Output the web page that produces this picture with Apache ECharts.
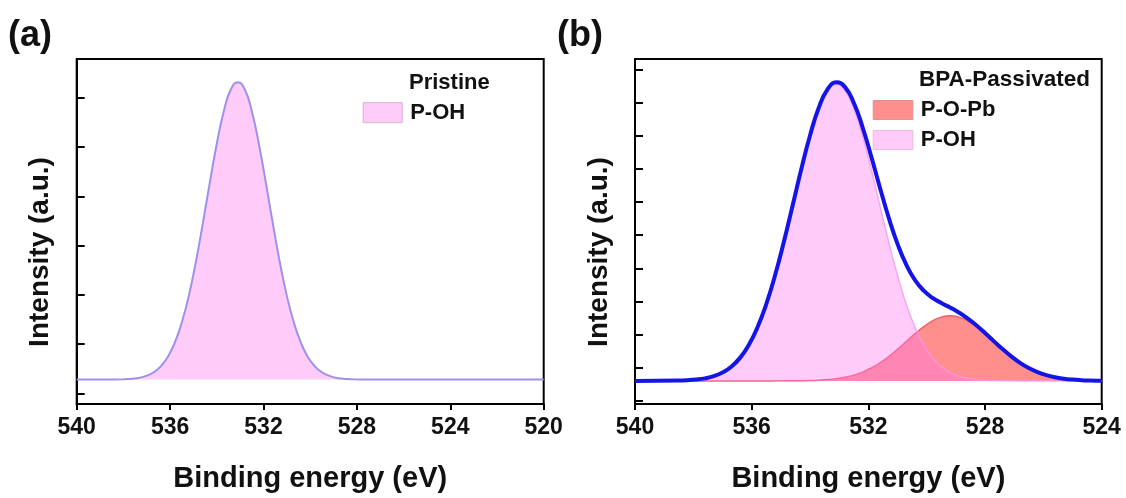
<!DOCTYPE html>
<html>
<head>
<meta charset="utf-8">
<script src="https://cdn.jsdelivr.net/npm/echarts@6/dist/echarts.min.js"></script>
<style>html,body{margin:0;padding:0;background:#fff;}#c{width:1126px;height:498px;}</style>
</head>
<body>
<div id="c"></div>
<script>
// ---- Panel (a): Pristine ----
const energyA = [540, 538.5, 537.9, 537.6, 537.3, 537.0, 536.7, 536.4, 536.1, 535.8, 535.5, 535.2, 534.9, 534.6, 534.3, 534.0, 533.7, 533.4, 533.1, 532.8, 532.5, 532.2, 531.9, 531.6, 531.3, 531.0, 530.7, 530.4, 530.1, 529.8, 529.5, 529.2, 528.9, 528.6, 528.3, 527.7, 520];
const pohA = [0, 0, 0.1, 0.2, 0.4, 0.8, 1.5, 2.7, 4.6, 7.5, 11.6, 17.0, 23.8, 31.7, 40.0, 47.9, 54.5, 58.9, 60.4, 58.9, 54.5, 47.9, 40.0, 31.7, 23.8, 17.0, 11.6, 7.5, 4.6, 2.7, 1.5, 0.8, 0.4, 0.2, 0.1, 0, 0];

// ---- Panel (b): BPA-Passivated ----
const energyB = [540, 538.5, 538.2, 537.9, 537.6, 537.3, 537.0, 536.7, 536.4, 536.1, 535.8, 535.5, 535.2, 534.9, 534.6, 534.3, 534.0, 533.7, 533.4, 533.1, 532.8, 532.5, 532.2, 531.9, 531.6, 531.3, 531.0, 530.7, 530.4, 530.1, 529.8, 529.5, 529.2, 528.9, 528.6, 528.3, 528.0, 527.7, 527.4, 527.1, 526.8, 526.5, 526.2, 525.9, 525.6, 525.3, 525.0, 524.7, 524.4, 524.1, 524];
const pohB = [0, 0.10, 0.20, 0.40, 0.77, 1.42, 2.52, 4.27, 6.94, 10.81, 16.15, 23.12, 31.74, 41.77, 52.68, 63.70, 73.85, 82.07, 87.43, 89.30, 87.43, 82.07, 73.85, 63.70, 52.68, 41.77, 31.74, 23.12, 16.15, 10.81, 6.94, 4.27, 2.52, 1.42, 0.77, 0.40, 0.20, 0.10, 0.04, 0.02, 0, 0, 0, 0, 0, 0, 0, 0, 0, 0, 0];
const popbB = [0, 0, 0, 0, 0, 0, 0, 0, 0, 0, 0, 0, 0.01, 0.01, 0.03, 0.06, 0.12, 0.22, 0.39, 0.67, 1.10, 1.74, 2.65, 3.88, 5.45, 7.36, 9.54, 11.89, 14.23, 16.37, 18.09, 19.21, 19.60, 19.21, 18.09, 16.37, 14.23, 11.89, 9.54, 7.36, 5.45, 3.88, 2.65, 1.74, 1.10, 0.67, 0.39, 0.22, 0.12, 0.06, 0.05];
const envelopeB = [0, 0.10, 0.20, 0.40, 0.77, 1.42, 2.52, 4.27, 6.94, 10.81, 16.15, 23.12, 31.75, 41.78, 52.71, 63.76, 73.97, 82.29, 87.82, 89.97, 88.53, 83.81, 76.50, 67.58, 58.13, 49.13, 41.28, 35.01, 30.38, 27.18, 25.03, 23.48, 22.12, 20.63, 18.86, 16.77, 14.43, 11.99, 9.58, 7.38, 5.45, 3.88, 2.65, 1.74, 1.10, 0.67, 0.39, 0.22, 0.12, 0.06, 0.05];

// tick positions (unlabelled y ticks)
const yTicksA = [-2.8, 7.2, 17.2, 27.2, 37.2, 47.2, 57.2];
const yTicksB = [-6.1, 3.9, 13.9, 23.9, 33.9, 43.9, 53.9, 63.9, 73.9, 83.9, 93.9];

const pairs = (xs, ys) => xs.map((x, i) => [x, ys[i]]);
const FONT = "'Liberation Sans', Arial, sans-serif";

function xAxisCfg(gi, min, max) {
  return {
    type: 'value', gridIndex: gi, min: min, max: max, interval: 4, inverse: true,
    name: 'Binding energy (eV)', nameLocation: 'middle', nameGap: 60,
    nameTextStyle: { fontFamily: FONT, fontSize: 29, fontWeight: 'bold', color: '#111' },
    axisLine: { show: true, onZero: false, lineStyle: { color: '#000', width: 2 } },
    axisTick: { show: true, inside: false, length: 6, lineStyle: { color: '#000', width: 2 } },
    axisLabel: { show: true, margin: 12, fontFamily: FONT, fontSize: 23, fontWeight: 'bold', color: '#111', showMinLabel: true, showMaxLabel: true },
    splitLine: { show: false }
  };
}
function yAxisCfg(gi, min, max, ticks) {
  return {
    type: 'value', gridIndex: gi, min: min, max: max,
    axisLine: { show: true, onZero: false, lineStyle: { color: '#000', width: 2 } },
    axisTick: { show: true, inside: true, length: 8, customValues: ticks, lineStyle: { color: '#000', width: 2 } },
    axisLabel: { show: false, customValues: ticks },
    splitLine: { show: false }
  };
}
function yName(x) {
  return {
    type: 'text', x: x, y: 252, rotation: Math.PI / 2, silent: true,
    style: { text: 'Intensity (a.u.)', fontFamily: FONT, fontSize: 28, fontWeight: 'bold', fill: '#111', align: 'center', verticalAlign: 'middle' }
  };
}

const chart = echarts.init(document.getElementById('c'), null, { renderer: 'canvas' });
chart.setOption({
  animation: false,
  backgroundColor: '#fff',
  grid: [
    { left: 76.7, top: 59, width: 467, height: 348.3, show: true, borderColor: '#000', borderWidth: 2, backgroundColor: 'transparent' },
    { left: 635, top: 59, width: 466.7, height: 348.3, show: true, borderColor: '#000', borderWidth: 2, backgroundColor: 'transparent' }
  ],
  xAxis: [xAxisCfg(0, 520, 540), xAxisCfg(1, 524, 540)],
  yAxis: [yAxisCfg(0, -4.95, 65.1, yTicksA), yAxisCfg(1, -6.96, 97.0, yTicksB)],
  graphic: [yName(40), yName(599)],
  title: [
    { text: '(a)', left: 8, top: 18, padding: 0, textStyle: { fontFamily: FONT, fontSize: 36, fontWeight: 'bold', color: '#111' } },
    { text: '(b)', left: 557, top: 18, padding: 0, textStyle: { fontFamily: FONT, fontSize: 36, fontWeight: 'bold', color: '#111' } },
    { text: 'Pristine', left: 409, top: 72, padding: 0, textStyle: { fontFamily: FONT, fontSize: 22, fontWeight: 'bold', color: '#111' } },
    { text: 'BPA-Passivated', left: 919, top: 68.5, padding: 0, textStyle: { fontFamily: FONT, fontSize: 22.5, fontWeight: 'bold', color: '#111' } }
  ],
  legend: [
    {
      left: 362.7, top: 101.7, padding: 0, orient: 'vertical', selectedMode: false,
      icon: 'rect', itemWidth: 39, itemHeight: 20,
      textStyle: { fontFamily: FONT, fontSize: 22, fontWeight: 'bold', color: '#111', lineHeight: 20, padding: [0, 0, 0, 3] },
      data: [{ name: 'P-OH', itemStyle: { color: '#ffccfa', borderColor: '#d9b0d2', borderWidth: 1 } }]
    },
    {
      left: 872.7, top: 99, padding: 0, orient: 'vertical', selectedMode: false, itemGap: 8,
      icon: 'rect', itemWidth: 39.6, itemHeight: 19,
      textStyle: { fontFamily: FONT, fontSize: 22, fontWeight: 'bold', color: '#111', lineHeight: 19, padding: [0, 0, 0, 3] },
      data: [
        { name: 'P-O-Pb', itemStyle: { color: '#ff8f8c', borderColor: '#e59090', borderWidth: 1 } },
        { name: 'P-OH', itemStyle: { color: '#ffccfa', borderColor: '#e6bde0', borderWidth: 1 } }
      ]
    }
  ],
  series: [
    {
      name: 'P-OH', type: 'line', xAxisIndex: 0, yAxisIndex: 0, data: pairs(energyA, pohA),
      smooth: 0.5, showSymbol: false, z: 3,
      lineStyle: { color: '#9c92ee', width: 2 },
      itemStyle: { color: '#ffccfa' },
      areaStyle: { color: '#ffccfa', opacity: 1 }
    },
    {
      name: 'P-O-Pb', type: 'line', xAxisIndex: 1, yAxisIndex: 1, data: pairs(energyB, popbB),
      smooth: 0.5, showSymbol: false, z: 2,
      lineStyle: { color: '#f2606c', width: 1.5 },
      itemStyle: { color: '#ff8f8c' },
      areaStyle: { color: '#ff8f8c', opacity: 1 }
    },
    {
      name: 'P-OH', type: 'line', xAxisIndex: 1, yAxisIndex: 1, data: pairs(energyB, pohB),
      smooth: 0.5, showSymbol: false, z: 3,
      lineStyle: { color: 'rgba(245,150,240,0.8)', width: 1.5 },
      itemStyle: { color: '#ffccfa' },
      areaStyle: { color: 'rgba(255,122,242,0.38)', opacity: 1 }
    },
    {
      name: 'Envelope', type: 'line', xAxisIndex: 1, yAxisIndex: 1, data: pairs(energyB, envelopeB),
      smooth: 0.5, showSymbol: false, z: 4,
      lineStyle: { color: '#1414e6', width: 4 },
      itemStyle: { color: '#1414e6' }
    }
  ]
});
</script>
</body>
</html>
